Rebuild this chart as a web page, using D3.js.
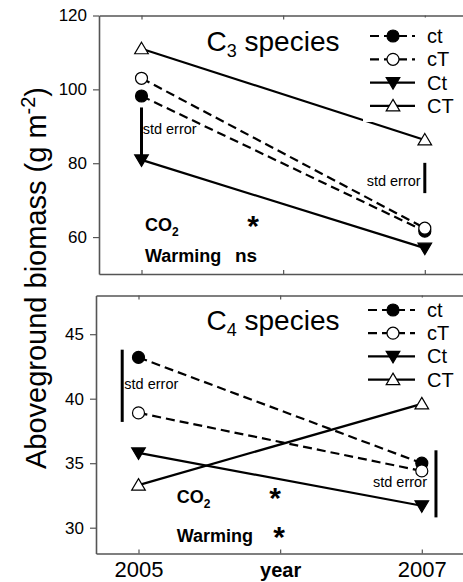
<!DOCTYPE html>
<html><head><meta charset="utf-8">
<script src="https://cdn.jsdelivr.net/npm/d3@7"></script>
<style>body{margin:0;background:#fff}svg{display:block}text{font-family:"Liberation Sans",Arial,Helvetica,sans-serif;fill:#000}</style>
</head><body><svg id="c" width="463" height="582"></svg>
<script>
// ---------- data ----------
const years = [2005, 2007];
const xTicks = [2005, 2006, 2007];
const xTickLabels = ["2005", "year", "2007"];
const seriesNames = ["ct", "cT", "Ct", "CT"];

const c3_ct = [98.2, 61.6];
const c3_cT = [103.0, 62.4];
const c3_Ct = [80.9, 57.0];
const c3_CT = [111.0, 86.3];

const c4_ct = [43.2, 35.0];
const c4_cT = [38.9, 34.4];
const c4_Ct = [35.8, 31.7];
const c4_CT = [33.3, 39.6];

const c3_yTicks = [60, 80, 100, 120];
const c4_yTicks = [30, 35, 40, 45];

const c3_errYears = [2005, 2007];
const c3_errLow = [81.1, 71.9];
const c3_errHigh = [95.1, 80.1];
const c4_errYears = [2004.885, 2007.1];
const c4_errLow = [38.2, 30.8];
const c4_errHigh = [43.8, 36.0];

const statLabels = ["CO", "Warming"];
const c3_stats = ["*", "ns"];
const c4_stats = ["*", "*"];

// ---------- styles ----------
const seriesStyle = {
  ct: {dash: "9,5", marker: "circle", fill: "#000"},
  cT: {dash: "9,5", marker: "circle", fill: "#fff"},
  Ct: {dash: null, marker: "down", fill: "#000"},
  CT: {dash: null, marker: "up", fill: "#fff"}
};

const svg = d3.select("#c");
const FONT = '"Liberation Sans",Arial,Helvetica,sans-serif';

function marker(g, type, fill, x, y) {
  if (type === "circle") {
    g.append("circle").attr("cx", x).attr("cy", y).attr("r", 6)
      .attr("fill", fill).attr("stroke", "#000").attr("stroke-width", 1.2);
  } else {
    const p = type === "up" ? "M0,-6.5L6.8,5L-6.8,5Z" : "M0,6.5L6.8,-5L-6.8,-5Z";
    g.append("path").attr("d", p).attr("transform", `translate(${x},${y})`)
      .attr("fill", fill).attr("stroke", "#000").attr("stroke-width", 1.2);
  }
}

function panel(cfg) {
  const x = d3.scaleLinear().domain([2004.7, 2007.3]).range(cfg.xr);
  const y = d3.scaleLinear().domain(cfg.yd).range(cfg.yr);
  const g = svg.append("g");
  const frame = "#555";

  // y axis (ticks outward)
  const ya = g.append("g").attr("transform", `translate(${cfg.xr[0]},0)`)
    .call(d3.axisLeft(y).tickValues(cfg.yTicks).tickSizeInner(6).tickSizeOuter(0).tickPadding(6));
  ya.select(".domain").attr("stroke", frame).attr("stroke-width", 1.6);
  ya.selectAll(".tick line").attr("stroke", frame).attr("stroke-width", 1.2);
  ya.selectAll(".tick text").attr("font-size", 17).attr("font-family", FONT).attr("fill", "#000");

  // bottom axis (ticks inward)
  const xa = g.append("g").attr("transform", `translate(0,${cfg.yr[0]})`)
    .call(d3.axisBottom(x).tickValues(xTicks).tickSizeInner(-4).tickSizeOuter(0)
      .tickFormat((d, i) => cfg.labels ? xTickLabels[i] : ""));
  xa.select(".domain").attr("stroke", frame).attr("stroke-width", 1.6);
  xa.selectAll(".tick line").attr("stroke", frame).attr("stroke-width", 1.2);
  xa.selectAll(".tick text").attr("font-family", FONT).attr("fill", "#000")
    .attr("y", 0).attr("dy", 0).attr("transform", "translate(0,23.5)")
    .attr("font-size", (d, i) => i === 1 ? 20 : 22)
    .attr("font-weight", (d, i) => i === 1 ? "bold" : "normal");

  // top border (ticks inward)
  const ta = g.append("g").attr("transform", `translate(0,${cfg.yr[1]})`)
    .call(d3.axisTop(x).tickValues(xTicks).tickSizeInner(-4).tickSizeOuter(0).tickFormat(""));
  ta.select(".domain").attr("stroke", frame).attr("stroke-width", 1.6);
  ta.selectAll(".tick line").attr("stroke", frame).attr("stroke-width", 1.2);

  // series lines
  const line = d3.line().x((d, i) => x(years[i])).y(d => y(d));
  seriesNames.forEach((n, k) => {
    const st = seriesStyle[n];
    g.append("path").datum(cfg.series[k]).attr("d", line)
      .attr("fill", "none").attr("stroke", "#000").attr("stroke-width", 2.2)
      .attr("stroke-dasharray", st.dash);
  });

  // legend background (occludes lines)
  g.append("rect").attr("x", cfg.legBox[0]).attr("y", cfg.yr[1] + 2)
    .attr("width", 120).attr("height", cfg.legBox[1] - cfg.yr[1] - 2).attr("fill", "#fff");

  // markers
  seriesNames.forEach((n, k) => {
    const st = seriesStyle[n];
    cfg.series[k].forEach((v, i) => marker(g, st.marker, st.fill, x(years[i]), y(v)));
  });

  // std error bars
  cfg.errYears.forEach((yr, i) => {
    g.append("line").attr("x1", x(yr)).attr("x2", x(yr))
      .attr("y1", y(cfg.errLow[i])).attr("y2", y(cfg.errHigh[i]))
      .attr("stroke", "#000").attr("stroke-width", 3);
  });
  cfg.errText.forEach(t => {
    g.append("text").attr("x", t[0]).attr("y", t[1]).attr("text-anchor", t[2])
      .attr("font-size", 14.5).text("std error");
  });

  // title
  const tt = g.append("text").attr("x", cfg.title[0]).attr("y", cfg.title[1])
    .attr("text-anchor", "middle").attr("font-size", 28);
  tt.append("tspan").text("C");
  tt.append("tspan").attr("font-size", 18).attr("dy", 6).text(cfg.sub);
  tt.append("tspan").attr("dy", -6).text(" species");

  // legend
  seriesNames.forEach((n, k) => {
    const st = seriesStyle[n];
    const ly = cfg.leg[1] + k * cfg.leg[2];
    g.append("line").attr("x1", cfg.leg[0]).attr("x2", 415).attr("y1", ly).attr("y2", ly)
      .attr("stroke", "#000").attr("stroke-width", 2.2).attr("stroke-dasharray", st.dash);
    marker(g, st.marker, st.fill, 393, ly);
    g.append("text").attr("x", 427).attr("y", ly + 7).attr("font-size", 20).text(n);
  });

  // stats annotations
  const s = cfg.stats;
  const co = g.append("text").attr("x", s.x).attr("y", s.y1).attr("font-size", 18).attr("font-weight", "bold");
  co.append("tspan").text(statLabels[0]);
  co.append("tspan").attr("font-size", 12).attr("dy", 5).text("2");
  g.append("text").attr("x", s.s1).attr("y", s.y1 + 5).attr("text-anchor", "middle")
    .attr("font-size", 30).attr("font-weight", "bold").text(cfg.statVals[0]);
  g.append("text").attr("x", s.x).attr("y", s.y2).attr("font-size", 18).attr("font-weight", "bold").text(statLabels[1]);
  if (cfg.statVals[1] === "*") {
    g.append("text").attr("x", s.s2).attr("y", s.y2 + 5).attr("text-anchor", "middle")
      .attr("font-size", 30).attr("font-weight", "bold").text("*");
  } else {
    g.append("text").attr("x", s.s2).attr("y", s.y2).attr("font-size", 19).attr("font-weight", "bold").text(cfg.statVals[1]);
  }
}

panel({
  xr: [99, 467.3], yd: [50, 120], yr: [274, 15.5], yTicks: c3_yTicks, labels: false,
  series: [c3_ct, c3_cT, c3_Ct, c3_CT],
  errYears: c3_errYears, errLow: c3_errLow, errHigh: c3_errHigh,
  errText: [[142.7, 134, "start"], [420.7, 186, "end"]],
  title: [273, 50.5], sub: "3",
  leg: [370, 36, 23.3], legBox: [363, 122],
  stats: {x: 145, y1: 231, s1: 253, y2: 262, s2: 235},
  statVals: c3_stats
});
panel({
  xr: [96, 464.3], yd: [28, 48], yr: [553.5, 295.5], yTicks: c4_yTicks, labels: true,
  series: [c4_ct, c4_cT, c4_Ct, c4_CT],
  errYears: c4_errYears, errLow: c4_errLow, errHigh: c4_errHigh,
  errText: [[124.3, 388.5, "start"], [427, 487, "end"]],
  title: [273, 329.5], sub: "4",
  leg: [368, 310, 23.2], legBox: [363, 392],
  stats: {x: 176.7, y1: 502.7, s1: 275, y2: 541.7, s2: 279},
  statVals: c4_stats
});

// y axis title
const yt = svg.append("text").attr("transform", "translate(46,278) rotate(-90)")
  .attr("text-anchor", "middle").attr("font-size", 29);
yt.append("tspan").text("Aboveground biomass (g m");
yt.append("tspan").attr("font-size", 20).attr("dy", -11).text("-2");
yt.append("tspan").attr("dy", 11).text(")");
</script></body></html>
